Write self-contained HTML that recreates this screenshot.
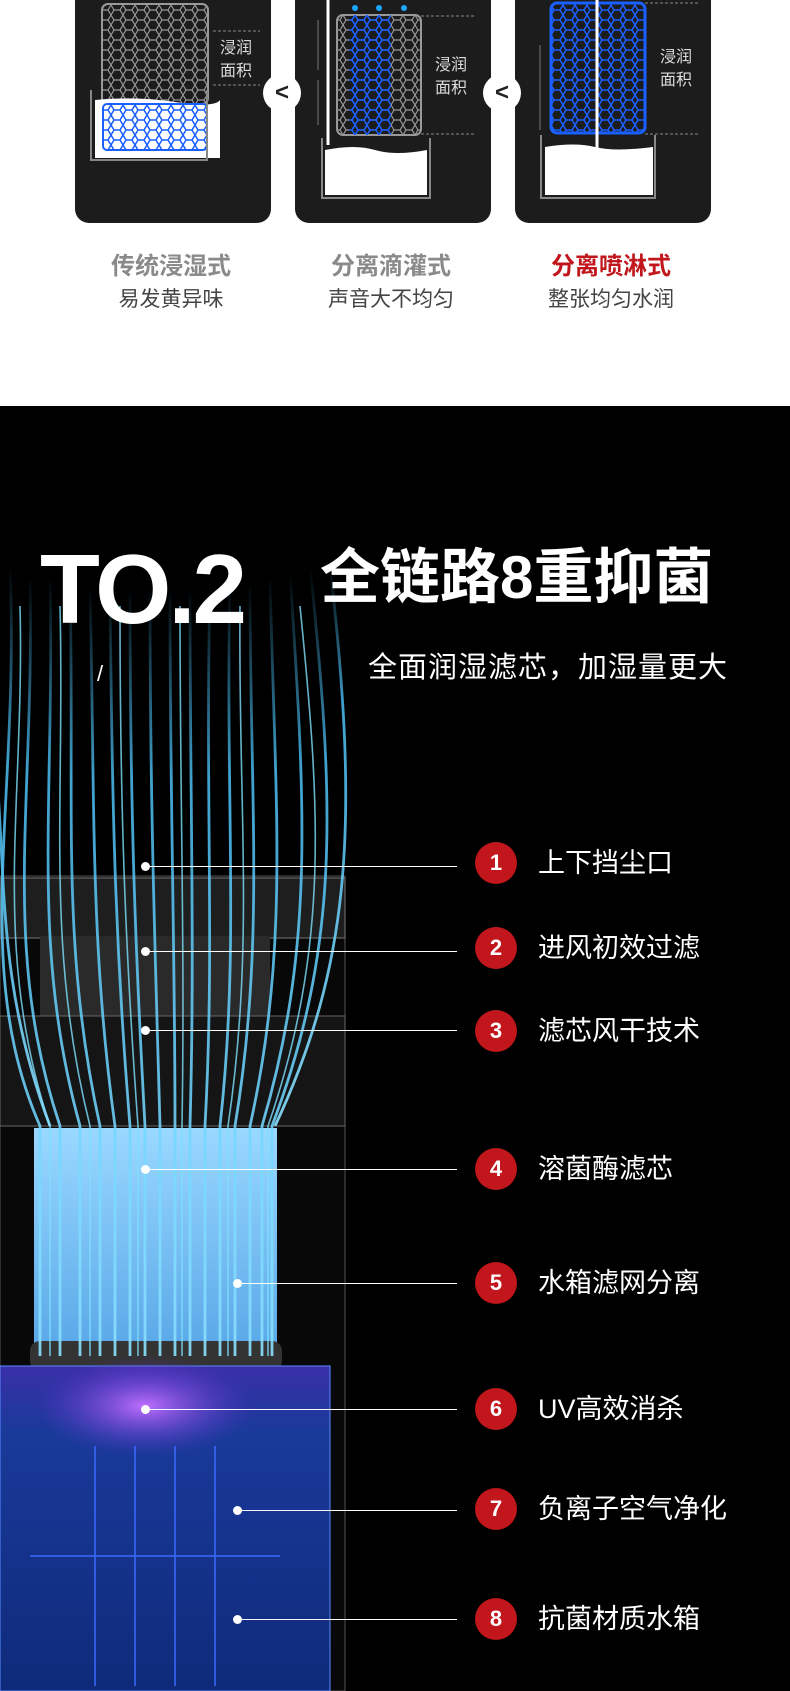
<!DOCTYPE html>
<html><head><meta charset="utf-8"><style>
*{margin:0;padding:0;box-sizing:border-box}
body{width:790px;height:1691px;overflow:hidden;background:#fff;font-family:"Liberation Sans","Noto Sans CJK SC",sans-serif;position:relative}
.abs{position:absolute}
.panel{position:absolute;top:0;height:223px;width:196px;background:#1c1c1c;border-radius:0 0 14px 14px}
.lt{position:absolute;z-index:5;left:263px;top:74px;width:38px;height:38px;border-radius:50%;background:#fff;color:#222;font:bold 24px/38px "Liberation Sans",sans-serif;text-align:center}
.t1{position:absolute;top:246px;width:196px;text-align:center;font-size:24px;font-weight:bold;color:#8a8a8a}
.t2{position:absolute;top:283px;width:196px;text-align:center;font-size:21px;color:#444}
.dark{position:absolute;left:0;top:406px;width:790px;height:1285px;background:#000;overflow:hidden}
.num{position:absolute;left:475px;width:42px;height:42px;border-radius:50%;background:#c0161c;color:#fff;font:bold 22px/42px "Liberation Sans",sans-serif;text-align:center}
.lab{position:absolute;left:538px;color:#fff;font-size:27px;line-height:42px}
.ln{position:absolute;height:1px;background:#fff}
.dot{position:absolute;width:9px;height:9px;border-radius:50%;background:#fff}
</style></head><body>
<svg width="0" height="0" class="abs"><defs>
<pattern id="hg" width="12" height="10" patternUnits="userSpaceOnUse"><path d="M3 0 L9 0 L12 5 L9 10 L3 10 L0 5 Z" fill="none" stroke="#999" stroke-width="1.2"/></pattern>
<pattern id="hb" width="12" height="10" patternUnits="userSpaceOnUse"><path d="M3 0 L9 0 L12 5 L9 10 L3 10 L0 5 Z" fill="none" stroke="#1a5fff" stroke-width="1.5"/></pattern>
</defs></svg>
<div class="panel" style="left:75px">
<svg width="196" height="223" class="abs" style="left:0;top:0">
<rect x="27" y="4" width="106" height="100" rx="6" fill="url(#hg)" stroke="#999" stroke-width="2"/>
<path d="M20 100 Q60 96 100 102 T145 100 V158 H20 Z" fill="#fff"/>
<rect x="28" y="104" width="104" height="46" rx="4" fill="url(#hb)" stroke="#1a5fff" stroke-width="2"/>
<path d="M16 90 V160 h116 V90" fill="none" stroke="#888" stroke-width="2"/>
<line x1="138" y1="31" x2="185" y2="31" stroke="#888" stroke-dasharray="3 2"/>
<line x1="138" y1="85" x2="185" y2="85" stroke="#888" stroke-dasharray="3 2"/>
<text x="145" y="53" fill="#ddd" font-size="16" font-family="Noto Sans CJK SC">浸润</text>
<text x="145" y="76" fill="#ddd" font-size="16" font-family="Noto Sans CJK SC">面积</text>
</svg></div>
<div class="lt">&lt;</div>
<div class="panel" style="left:295px">
<svg width="196" height="223" class="abs" style="left:0;top:0">
<line x1="33" y1="0" x2="33" y2="145" stroke="#fff" stroke-width="3"/>
<line x1="23" y1="20" x2="23" y2="70" stroke="#777"/><line x1="23" y1="80" x2="23" y2="125" stroke="#777"/>
<rect x="42" y="15" width="84" height="120" rx="6" fill="url(#hg)" stroke="#999" stroke-width="2"/>
<rect x="54" y="15" width="42" height="120" fill="url(#hb)"/>
<circle cx="60" cy="8" r="3" fill="#1aa8ff"/><circle cx="84" cy="8" r="3" fill="#1aa8ff"/><circle cx="109" cy="8" r="3" fill="#1aa8ff"/>
<path d="M30 150 Q60 144 80 150 T132 150 V195 H30 Z" fill="#fff"/>
<path d="M27 138 V198 h108 V138" fill="none" stroke="#888" stroke-width="2"/>
<line x1="126" y1="16" x2="180" y2="16" stroke="#888" stroke-dasharray="3 2"/>
<line x1="126" y1="134" x2="180" y2="134" stroke="#888" stroke-dasharray="3 2"/>
<text x="140" y="70" fill="#ddd" font-size="16" font-family="Noto Sans CJK SC">浸润</text>
<text x="140" y="93" fill="#ddd" font-size="16" font-family="Noto Sans CJK SC">面积</text>
</svg></div>
<div class="lt" style="left:483px">&lt;</div>
<div class="panel" style="left:515px">
<svg width="196" height="223" class="abs" style="left:0;top:0">
<rect x="36" y="3" width="94" height="130" rx="6" fill="url(#hb)" stroke="#1a5fff" stroke-width="3"/>
<line x1="82" y1="0" x2="82" y2="150" stroke="#fff" stroke-width="3"/>
<line x1="25" y1="45" x2="25" y2="130" stroke="#777"/>
<path d="M30 147 Q60 142 80 147 T138 147 V195 H30 Z" fill="#fff"/>
<path d="M26 135 V198 h114 V135" fill="none" stroke="#888" stroke-width="2"/>
<line x1="130" y1="3" x2="185" y2="3" stroke="#888" stroke-dasharray="3 2"/>
<line x1="130" y1="134" x2="185" y2="134" stroke="#888" stroke-dasharray="3 2"/>
<text x="145" y="62" fill="#ddd" font-size="16" font-family="Noto Sans CJK SC">浸润</text>
<text x="145" y="85" fill="#ddd" font-size="16" font-family="Noto Sans CJK SC">面积</text>
</svg></div>
<div class="t1" style="left:73px">传统浸湿式</div><div class="t2" style="left:73px">易发黄异味</div>
<div class="t1" style="left:293px">分离滴灌式</div><div class="t2" style="left:293px">声音大不均匀</div>
<div class="t1" style="left:513px;color:#c0161c">分离喷淋式</div><div class="t2" style="left:513px">整张均匀水润</div>

<div class="dark">
<svg width="790" height="1285" class="abs" style="left:0;top:0">
<defs>
<linearGradient id="fg" x1="0" y1="0" x2="0" y2="1"><stop offset="0" stop-color="#9ad8ff"/><stop offset="1" stop-color="#5aa8e8"/></linearGradient>
<linearGradient id="tk" x1="0" y1="0" x2="0" y2="1"><stop offset="0" stop-color="#3a2fa8"/><stop offset="0.2" stop-color="#1a3a9a"/><stop offset="1" stop-color="#0e2a7a"/></linearGradient>
<radialGradient id="uv"><stop offset="0" stop-color="#c070ff"/><stop offset="1" stop-color="#6030d0" stop-opacity="0"/></radialGradient>
<linearGradient id="st" x1="0" y1="0" x2="0" y2="1"><stop offset="0" stop-color="#4fc8ff" stop-opacity="0"/><stop offset="0.25" stop-color="#4fc8ff" stop-opacity="0.9"/><stop offset="1" stop-color="#8ae0ff"/></linearGradient>
</defs>
<rect x="0" y="470" width="345" height="815" fill="#080808" stroke="#555"/>
<rect x="0" y="472" width="345" height="60" fill="#1e1e1e" stroke="#777"/>
<rect x="40" y="530" width="230" height="80" fill="#2a2a2a"/>
<rect x="0" y="610" width="345" height="110" fill="#151515" stroke="#666"/>
<rect x="34" y="722" width="243" height="220" fill="url(#fg)"/>
<rect x="30" y="935" width="252" height="30" rx="10" fill="#333"/>
<rect x="0" y="960" width="330" height="325" fill="url(#tk)" stroke="#5a8aff"/>
<ellipse cx="145" cy="1000" rx="110" ry="50" fill="url(#uv)"/>
<g stroke="#3a6aff" stroke-width="1.5" fill="none"><line x1="95" y1="1040" x2="95" y2="1280"/><line x1="135" y1="1040" x2="135" y2="1280"/><line x1="175" y1="1040" x2="175" y2="1280"/><line x1="215" y1="1040" x2="215" y2="1280"/><line x1="30" y1="1150" x2="280" y2="1150"/></g>
<g fill="none" stroke="url(#st)" stroke-width="2.8" opacity="0.9">
<path d="M10 160 C20 400 -30 560 40 720 L40 950"/>
<path d="M30 170 C35 400 0 540 60 720 L60 950"/>
<path d="M50 170 C55 400 30 540 80 720 L80 950"/>
<path d="M70 175 C75 400 60 540 100 720 L100 950"/>
<path d="M90 180 C95 400 90 540 115 720 L115 950"/>
<path d="M110 180 C112 400 115 540 130 720 L130 950"/>
<path d="M130 180 C130 400 135 540 145 720 L145 950"/>
<path d="M150 180 C150 400 155 540 160 720 L160 950"/>
<path d="M170 180 C170 400 175 540 175 720 L175 950"/>
<path d="M190 180 C190 400 195 540 190 720 L190 950"/>
<path d="M210 180 C205 400 215 540 205 720 L205 950"/>
<path d="M230 175 C225 400 240 540 220 720 L220 950"/>
<path d="M250 175 C250 400 265 540 235 720 L235 950"/>
<path d="M270 170 C275 400 290 540 250 720 L250 950"/>
<path d="M290 165 C305 400 315 540 262 720 L262 950"/>
<path d="M310 160 C335 400 340 540 272 720 L272 950"/>
<path d="M330 160 C360 420 350 560 275 720"/>
<path d="M-10 300 C10 450 -10 560 50 720"/>
</g>
<g fill="none" stroke="#7ee0ff" stroke-width="1.6" opacity="0.8">
<path d="M20 200 C25 400 -10 540 50 720 L50 950"/>
<path d="M60 200 C65 400 45 540 90 720 L90 950"/>
<path d="M120 200 C120 400 125 540 138 720 L138 950"/>
<path d="M180 200 C180 400 185 540 182 720 L182 950"/>
<path d="M240 200 C238 400 255 540 228 720 L228 950"/>
<path d="M300 200 C320 400 330 540 268 720 L268 950"/>
</g>
</svg>
<div class="abs" style="left:40px;top:128px;color:#fff;font-size:98px;font-weight:bold;letter-spacing:-3px;line-height:110px">TO.2</div>
<div class="abs" style="left:97px;top:255px;color:#fff;font-size:22px">/</div>
<div class="abs" style="left:320px;top:135px;color:#fff;font-size:60px;font-weight:bold;line-height:74px;letter-spacing:0px">全链路8重抑菌</div>
<div class="abs" style="left:368px;top:242px;color:#fff;font-size:29px;line-height:40px;letter-spacing:1px">全面润湿滤芯，加湿量更大</div>
</div>

<div class="ln" style="left:145px;width:312px;top:866px"></div><div class="dot" style="left:141px;top:862px"></div>
<div class="num" style="top:842px">1</div><div class="lab" style="top:842px">上下挡尘口</div>
<div class="ln" style="left:145px;width:312px;top:951px"></div><div class="dot" style="left:141px;top:947px"></div>
<div class="num" style="top:927px">2</div><div class="lab" style="top:927px">进风初效过滤</div>
<div class="ln" style="left:145px;width:312px;top:1030px"></div><div class="dot" style="left:141px;top:1026px"></div>
<div class="num" style="top:1010px">3</div><div class="lab" style="top:1010px">滤芯风干技术</div>
<div class="ln" style="left:145px;width:312px;top:1169px"></div><div class="dot" style="left:141px;top:1165px"></div>
<div class="num" style="top:1148px">4</div><div class="lab" style="top:1148px">溶菌酶滤芯</div>
<div class="ln" style="left:237px;width:220px;top:1283px"></div><div class="dot" style="left:233px;top:1279px"></div>
<div class="num" style="top:1262px">5</div><div class="lab" style="top:1262px">水箱滤网分离</div>
<div class="ln" style="left:145px;width:312px;top:1409px"></div><div class="dot" style="left:141px;top:1405px"></div>
<div class="num" style="top:1388px">6</div><div class="lab" style="top:1388px">UV高效消杀</div>
<div class="ln" style="left:237px;width:220px;top:1510px"></div><div class="dot" style="left:233px;top:1506px"></div>
<div class="num" style="top:1488px">7</div><div class="lab" style="top:1488px">负离子空气净化</div>
<div class="ln" style="left:237px;width:220px;top:1619px"></div><div class="dot" style="left:233px;top:1615px"></div>
<div class="num" style="top:1598px">8</div><div class="lab" style="top:1598px">抗菌材质水箱</div>
</body></html>
